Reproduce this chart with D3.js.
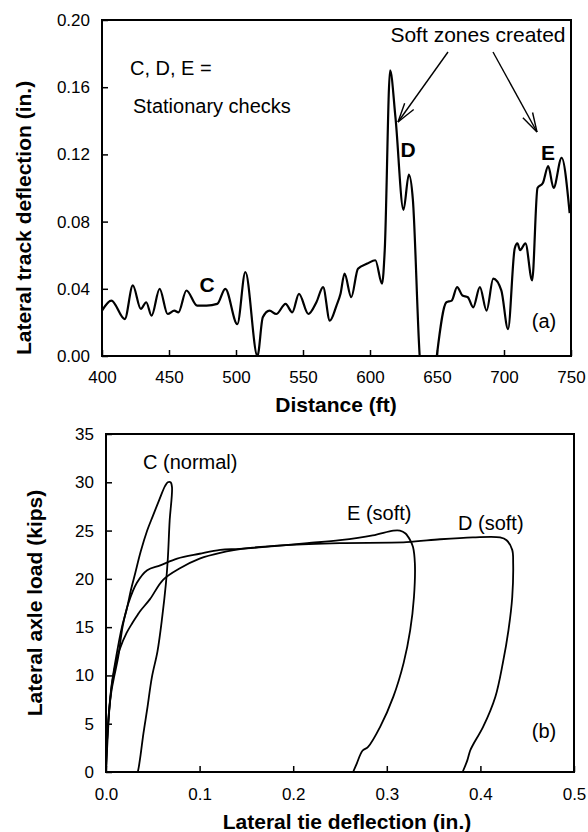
<!DOCTYPE html>
<html>
<head>
<meta charset="utf-8">
<script src="https://cdn.jsdelivr.net/npm/d3@7"></script>
<style>
  body { margin: 0; background: #fff; }
  text { font-family: "Liberation Sans", Arial, sans-serif; fill: #000; }
</style>
</head>
<body>
<div id="chart"></div>
<script>
// panel (a): lateral track deflection along the track
const distanceFt = [400, 407, 417, 423, 429, 433, 437, 443, 449, 454, 457, 463, 471, 478, 486, 492, 501, 507, 516,
  520, 525, 530, 537, 542, 547, 554, 560, 565, 570, 575, 578, 581, 586, 591, 598, 604, 609, 611, 615, 619, 625,
  629, 632, 637, 641, 646, 650, 657, 661, 665, 669, 673, 677, 682, 687, 692, 698, 703, 708, 710, 712, 716, 721,
  725, 729, 733, 737, 743, 749];
const trackDefl = [0.027, 0.033, 0.022, 0.042, 0.028, 0.032, 0.024, 0.040, 0.025, 0.027, 0.026, 0.039, 0.030, 0.030,
  0.031, 0.040, 0.019, 0.050, 0.000, 0.023, 0.027, 0.025, 0.031, 0.026, 0.037, 0.025, 0.032, 0.041, 0.021, 0.030,
  0.037, 0.049, 0.035, 0.052, 0.055, 0.057, 0.043, 0.063, 0.170, 0.142, 0.087, 0.108, 0.093, 0.001, -0.03, -0.03,
  0.001, 0.032, 0.033, 0.041, 0.036, 0.035, 0.029, 0.041, 0.027, 0.046, 0.039, 0.016, 0.064, 0.067, 0.063, 0.067,
  0.045, 0.100, 0.103, 0.113, 0.100, 0.118, 0.085];
const distTicks = [400, 450, 500, 550, 600, 650, 700, 750];
const trackTicks = [0, 0.04, 0.08, 0.12, 0.16, 0.20];

// panel (b): load vs tie deflection for the three checks
const tieC = [0, 0.001, 0.003, 0.006, 0.011, 0.017, 0.022, 0.027, 0.031, 0.037, 0.044, 0.050, 0.057, 0.063, 0.066,
  0.069, 0.0705, 0.068, 0.066, 0.064, 0.060, 0.055, 0.049, 0.044, 0.040, 0.037, 0.035, 0.034];
const loadC = [0, 3, 6, 9, 12, 15, 16.8, 19, 20.5, 22.8, 25, 26.5, 28.2, 29.6, 30, 30, 29.5, 26, 22, 19.5, 16, 12.5,
  9.8, 6.5, 4, 1.8, 0.5, 0];
const tieE = [0, 0.001, 0.003, 0.006, 0.009, 0.013, 0.018, 0.024, 0.033, 0.044, 0.058, 0.076, 0.100, 0.122, 0.143,
  0.180, 0.215, 0.250, 0.285, 0.307, 0.314, 0.320, 0.325, 0.328, 0.330, 0.329, 0.325, 0.318, 0.307, 0.293, 0.280,
  0.274, 0.268, 0.264];
const loadE = [0, 3, 6, 8.5, 10, 11.9, 15.2, 17.5, 19.6, 20.9, 21.4, 22.1, 22.6, 23, 23.1, 23.4, 23.7, 24.0, 24.5,
  25.0, 25.0, 24.7, 24, 23.3, 21.6, 18.1, 14.7, 11.3, 7.8, 4.7, 2.6, 2.2, 0.9, 0];
const tieD = [0, 0.002, 0.004, 0.007, 0.011, 0.015, 0.022, 0.028, 0.034, 0.036, 0.047, 0.061, 0.079, 0.100, 0.122,
  0.154, 0.193, 0.250, 0.321, 0.357, 0.392, 0.421, 0.428, 0.434, 0.435, 0.434, 0.430, 0.424, 0.416, 0.403, 0.392,
  0.389, 0.386, 0.381];
const loadD = [0, 4, 7, 9.5, 11.5, 12.8, 14.4, 15.4, 16.3, 16.6, 17.9, 19.9, 21.1, 22.1, 22.7, 23.2, 23.5, 23.7, 23.8,
  24.1, 24.3, 24.3, 24.0, 23, 21.6, 18.1, 14.7, 11.3, 7.8, 4.7, 2.8, 2.2, 1.2, 0];
const tieTicks = [0, 0.1, 0.2, 0.3, 0.4, 0.5];
const loadTicks = [0, 5, 10, 15, 20, 25, 30, 35];

const svg = d3.select("#chart").append("svg")
    .attr("width", 588)
    .attr("height", 832);

// helper: box, inward ticks, labels
function drawFrame(x, y, xTicks, yTicks, xFmt, yFmt, xPad) {
    let g = svg.append("g");
    g.append("g")
        .attr("transform", "translate(0," + y.range()[0] + ")")
        .call(d3.axisBottom(x).tickValues(xTicks).tickFormat(xFmt).tickSizeInner(-6).tickSizeOuter(0).tickPadding(xPad))
        .call(a => a.select(".domain").remove());
    g.append("g")
        .attr("transform", "translate(" + x.range()[0] + ",0)")
        .call(d3.axisLeft(y).tickValues(yTicks).tickFormat(yFmt).tickSizeInner(-6).tickSizeOuter(0).tickPadding(12))
        .call(a => a.select(".domain").remove());
    g.selectAll(".tick line").attr("stroke", "#000").attr("stroke-width", 1.5);
    g.selectAll(".tick text").style("font-size", "17px").style("font-family", "'Liberation Sans', Arial, sans-serif");
    g.append("rect")
        .attr("x", x.range()[0]).attr("y", y.range()[1])
        .attr("width", x.range()[1] - x.range()[0])
        .attr("height", y.range()[0] - y.range()[1])
        .attr("fill", "none").attr("stroke", "#000").attr("stroke-width", 2);
}

function label(x, y, txt, size, weight, anchor) {
    return svg.append("text")
        .attr("x", x).attr("y", y)
        .attr("text-anchor", anchor || "start")
        .style("font-size", size + "px")
        .style("font-weight", weight || "normal")
        .text(txt);
}

function arrow(x1, y1, x2, y2) {
    svg.append("line").attr("x1", x1).attr("y1", y1).attr("x2", x2).attr("y2", y2)
        .attr("stroke", "#000").attr("stroke-width", 1.4);
    let ang = Math.atan2(y1 - y2, x1 - x2), len = 20, spread = 0.28;
    [ang - spread, ang + spread].forEach(function(a) {
        svg.append("line")
            .attr("x1", x2).attr("y1", y2)
            .attr("x2", x2 + len * Math.cos(a)).attr("y2", y2 + len * Math.sin(a))
            .attr("stroke", "#000").attr("stroke-width", 1.4);
    });
}

// ---- panel (a)
let xa = d3.scaleLinear().domain([400, 750]).range([102, 571]);
let ya = d3.scaleLinear().domain([0, 0.2]).range([356, 20]);

svg.append("clipPath").attr("id", "clipA").append("rect")
    .attr("x", 102).attr("y", 20).attr("width", 469).attr("height", 336);

svg.append("path")
    .datum(distanceFt.map((d, i) => [d, trackDefl[i]]))
    .attr("clip-path", "url(#clipA)")
    .attr("fill", "none").attr("stroke", "#000").attr("stroke-width", 2.2)
    .attr("stroke-linejoin", "round")
    .attr("d", d3.line().x(d => xa(d[0])).y(d => ya(d[1])).curve(d3.curveMonotoneX));

drawFrame(xa, ya, distTicks, trackTicks, d3.format("d"), d3.format(".2f"), 15);

label(130, 75, "C, D, E =", 20);
label(133, 113, "Stationary checks", 20);
label(478, 42, "Soft zones created", 21, "normal", "middle");
label(207, 292, "C", 21, "bold", "middle");
label(408, 157, "D", 21, "bold", "middle");
label(548, 160, "E", 21, "bold", "middle");
label(544, 328, "(a)", 20, "normal", "middle");
arrow(448, 52, 398, 122);
arrow(493, 52, 537, 132);

label(336, 412, "Distance (ft)", 21, "bold", "middle");
svg.append("text")
    .attr("transform", "translate(31,218) rotate(-90)")
    .attr("text-anchor", "middle")
    .style("font-size", "21px").style("font-weight", "bold")
    .text("Lateral track deflection (in.)");

// ---- panel (b)
let xb = d3.scaleLinear().domain([0, 0.5]).range([106, 574]);
let yb = d3.scaleLinear().domain([0, 35]).range([772, 434]);

let loadLine = d3.line().x(d => xb(d[0])).y(d => yb(d[1])).curve(d3.curveCatmullRom.alpha(0.5));
[[tieC, loadC], [tieE, loadE], [tieD, loadD]].forEach(function(s) {
    svg.append("path")
        .datum(s[0].map((v, i) => [v, s[1][i]]))
        .attr("fill", "none").attr("stroke", "#000").attr("stroke-width", 1.8)
        .attr("stroke-linejoin", "round")
        .attr("d", loadLine);
});

drawFrame(xb, yb, tieTicks, loadTicks, d3.format(".1f"), d3.format("d"), 16);

label(143, 469, "C (normal)", 20);
label(347, 520, "E (soft)", 20);
label(458, 530, "D (soft)", 20);
label(544, 738, "(b)", 20, "normal", "middle");

label(347, 829, "Lateral tie deflection (in.)", 21, "bold", "middle");
svg.append("text")
    .attr("transform", "translate(42,603) rotate(-90)")
    .attr("text-anchor", "middle")
    .style("font-size", "21px").style("font-weight", "bold")
    .text("Lateral axle load (kips)");
</script>
</body>
</html>
